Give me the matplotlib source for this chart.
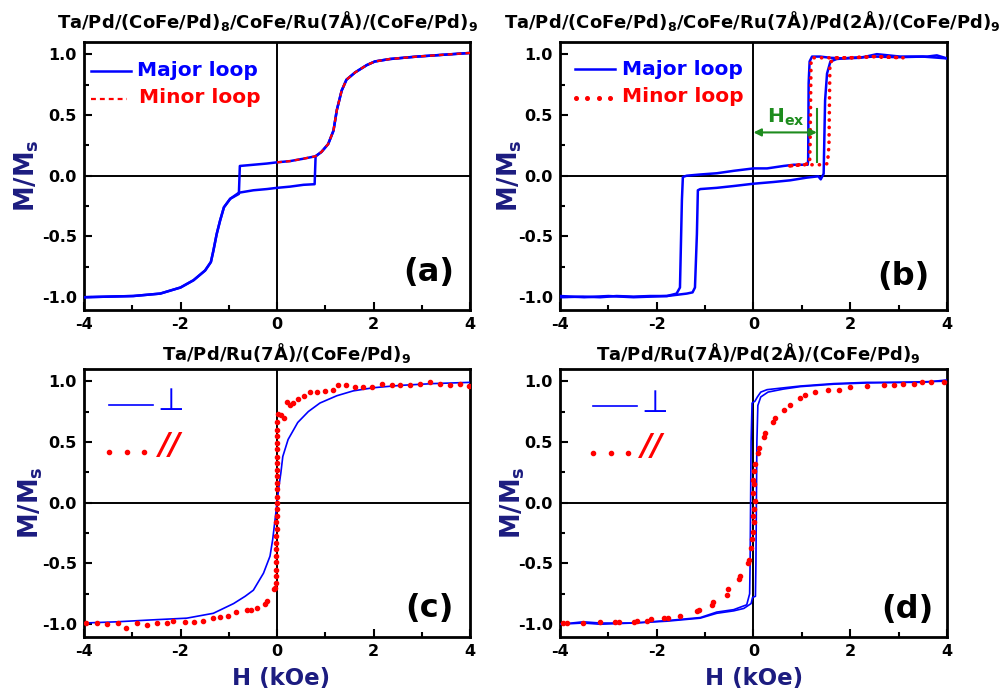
import matplotlib
matplotlib.use("Agg")
import matplotlib.pyplot as plt
from matplotlib.ticker import MultipleLocator, FormatStrFormatter

# ---------------- (a) Ta/Pd/(CoFe/Pd)8/CoFe/Ru(7Å)/(CoFe/Pd)9 ----------------
a_down_h = [4.0, 3.45, 2.9, 2.34, 2.03, 1.86, 1.62, 1.44, 1.34, 1.24, 1.17, 1.06,
            0.92, 0.80, 0.55, 0.27, 0.0, -0.21, -0.49, -0.77, -0.79, -0.97, -1.10,
            -1.18, -1.25, -1.32, -1.37, -1.49, -1.73, -2.0, -2.42, -2.98, -3.5, -4.0]
a_down_m = [1.01, 0.995, 0.98, 0.96, 0.94, 0.91, 0.85, 0.79, 0.70, 0.54, 0.37, 0.26,
            0.195, 0.16, 0.14, 0.12, 0.11, 0.10, 0.09, 0.08, -0.15, -0.19, -0.26,
            -0.37, -0.48, -0.62, -0.71, -0.78, -0.86, -0.92, -0.97, -0.99, -0.995, -1.0]
a_up_h = [-4.0, -3.5, -2.98, -2.42, -2.0, -1.73, -1.49, -1.37, -1.32, -1.25, -1.18,
          -1.10, -0.97, -0.79, -0.49, -0.21, 0.0, 0.27, 0.55, 0.78, 0.80, 0.92, 1.06,
          1.17, 1.24, 1.34, 1.44, 1.62, 1.86, 2.03, 2.34, 2.9, 3.45, 4.0]
a_up_m = [-1.0, -0.995, -0.99, -0.97, -0.92, -0.86, -0.78, -0.71, -0.62, -0.48, -0.37,
          -0.26, -0.19, -0.14, -0.12, -0.11, -0.10, -0.09, -0.075, -0.07, 0.16, 0.195,
          0.26, 0.37, 0.54, 0.70, 0.79, 0.85, 0.91, 0.94, 0.96, 0.98, 0.995, 1.01]
a_minor_h = [0.0, 0.27, 0.55, 0.80, 0.92, 1.06, 1.17, 1.24, 1.34, 1.44, 1.62, 1.86,
             2.03, 2.34, 2.9, 3.45, 4.0]
a_minor_m = [0.11, 0.12, 0.14, 0.16, 0.195, 0.26, 0.37, 0.54, 0.70, 0.79, 0.85, 0.91,
             0.94, 0.96, 0.98, 0.995, 1.01]

# ---------------- (b) ... Ru(7Å)/Pd(2Å) ... ----------------
b_down_h = [4.0, 3.79, 3.59, 3.03, 2.55, 2.21, 1.86, 1.59, 1.38, 1.21, 1.16, 1.14, 1.13,
            1.12, 0.83, 0.62, 0.28, 0.0, -0.41, -0.76, -1.10, -1.38, -1.46, -1.48, -1.52,
            -1.59, -1.79, -2.14, -2.48, -2.83, -3.17, -3.52, -4.0]
b_down_m = [0.965, 0.99, 0.98, 0.98, 1.0, 0.97, 0.965, 0.97, 0.98, 0.98, 0.94, 0.76, 0.13,
            0.09, 0.09, 0.08, 0.06, 0.06, 0.04, 0.02, 0.01, 0.0, -0.01, -0.2, -0.92,
            -0.97, -0.99, -0.99, -0.995, -0.99, -1.0, -0.995, -1.0]
b_up_h = [-4.0, -3.5, -3.0, -2.48, -1.79, -1.38, -1.26, -1.21, -1.17, -1.15, -1.10, -0.76,
          -0.41, 0.0, 0.41, 0.76, 1.10, 1.34, 1.39, 1.45, 1.48, 1.52, 1.59, 1.72, 2.0,
          2.5, 3.0, 3.5, 4.0]
b_up_m = [-0.99, -1.0, -0.99, -1.0, -0.99, -0.97, -0.96, -0.92, -0.48, -0.12, -0.11, -0.10,
          -0.085, -0.066, -0.052, -0.038, -0.016, -0.005, -0.03, 0.016, 0.62, 0.84, 0.94,
          0.96, 0.97, 0.98, 0.975, 0.98, 0.965]
b_minor_h = [0.75, 1.0, 1.25, 1.45, 1.53, 1.56, 1.57, 1.58, 1.7, 2.0, 2.5, 3.1, 2.5, 2.0,
             1.5, 1.22, 1.19, 1.18, 1.17, 1.16, 0.95, 0.75]
b_minor_m = [0.08, 0.09, 0.09, 0.09, 0.10, 0.25, 0.60, 0.93, 0.97, 0.97, 0.98, 0.97, 0.98,
             0.97, 0.97, 0.97, 0.95, 0.60, 0.25, 0.10, 0.09, 0.08]
b_hex = 1.31          # exchange field, kOe
b_hex_level = 0.356   # height of the H_ex arrow

# ---------------- (c) Ta/Pd/Ru(7Å)/(CoFe/Pd)9 ----------------
c_perp_h = [-4.0, -3.32, -2.63, -1.87, -1.32, -0.90, -0.66, -0.49, -0.28, -0.145, -0.09,
            -0.04, 0.0, 0.04, 0.08, 0.12, 0.23, 0.43, 0.65, 0.89, 1.24, 1.58, 2.0, 2.55,
            3.24, 4.0]
c_perp_m = [-0.99, -0.98, -0.965, -0.95, -0.91, -0.83, -0.77, -0.72, -0.58, -0.44, -0.305,
            -0.14, 0.0, 0.135, 0.245, 0.38, 0.52, 0.66, 0.75, 0.82, 0.88, 0.92, 0.946,
            0.965, 0.98, 0.99]
c_par_h = [3.97, 3.79, 3.59, 3.38, 3.17, 2.96, 2.76, 2.55, 2.38, 2.17, 1.96, 1.79, 1.62,
           1.44, 1.27, 1.17, 1.00, 0.82, 0.68, 0.55, 0.44, 0.34, 0.26, 0.21, 0.15, 0.08,
           0.03,
           0.01, 0.01, 0.0, 0.01, 0.0, 0.0, -0.01, 0.0, 0.0, -0.01, 0.0, -0.01, -0.01,
           -0.01, -0.01, -0.02, -0.01, -0.02, -0.02, -0.02, -0.02, -0.03, -0.02, -0.03,
           -0.03, -0.04,
           -0.06, -0.21, -0.25, -0.42, -0.53, -0.63, -0.84, -1.01, -1.18, -1.32, -1.53,
           -1.73, -1.91, -2.15, -2.29, -2.49, -2.70, -2.91, -3.12, -3.29, -3.53, -3.74,
           -3.95]
c_par_m = [0.96, 0.98, 0.97, 0.98, 0.99, 0.98, 0.97, 0.97, 0.97, 0.98, 0.95, 0.95, 0.95,
           0.97, 0.97, 0.93, 0.92, 0.91, 0.91, 0.88, 0.85, 0.82, 0.80, 0.83, 0.70, 0.72,
           0.73,
           0.66, 0.60, 0.55, 0.49, 0.44, 0.38, 0.33, 0.27, 0.22, 0.16, 0.11, 0.05, 0.0,
           -0.05, -0.11, -0.16, -0.22, -0.27, -0.33, -0.38, -0.44, -0.49, -0.55, -0.60,
           -0.66, -0.70,
           -0.71, -0.81, -0.83, -0.87, -0.88, -0.88, -0.90, -0.93, -0.94, -0.95, -0.97,
           -0.98, -0.98, -0.97, -0.99, -0.99, -1.01, -0.99, -1.03, -0.99, -1.00, -0.99,
           -0.99]

# ---------------- (d) Ta/Pd/Ru(7Å)/Pd(2Å)/(CoFe/Pd)9 ----------------
d_down_h = [4.0, 3.5, 3.03, 2.34, 1.66, 0.97, 0.62, 0.28, 0.15, 0.08, 0.03, -0.03, -0.05,
            -0.06, -0.07, -0.08, -0.14, -0.41, -0.76, -1.1, -1.79, -2.48, -3.17, -3.52, -4.0]
d_down_m = [1.01, 0.99, 0.99, 0.99, 0.98, 0.96, 0.945, 0.93, 0.91, 0.87, 0.835, 0.82, 0.5,
            0.0, -0.5, -0.75, -0.84, -0.88, -0.90, -0.945, -0.97, -0.99, -0.99, -0.98, -1.0]
d_up_h = [-4.0, -3.52, -3.17, -2.48, -1.79, -1.1, -0.76, -0.41, -0.2, -0.05, -0.02, 0.04,
          0.05, 0.06, 0.07, 0.09, 0.15, 0.3, 0.62, 0.97, 1.66, 2.34, 3.03, 3.5, 4.0]
d_up_m = [-1.0, -0.99, -1.0, -0.99, -0.975, -0.95, -0.91, -0.89, -0.87, -0.83, -0.78, -0.77,
          -0.5, 0.0, 0.5, 0.80, 0.87, 0.91, 0.935, 0.955, 0.975, 0.985, 0.99, 0.995, 1.0]
d_par_h = [3.93, 3.66, 3.48, 3.31, 3.10, 2.90, 2.69, 2.34, 2.00, 1.76, 1.55, 1.28, 1.07,
           0.97, 0.76, 0.63, 0.45, 0.40, 0.24, 0.21, 0.12, 0.09, 0.04, 0.01, -0.02, 0.02,
           0.0, 0.03, 0.01, -0.01, 0.01, -0.02, -0.04, -0.06, -0.09, -0.12, -0.28, -0.30,
           -0.52, -0.55, -0.83, -0.86, -1.12, -1.16, -1.52, -1.76, -1.86, -2.12, -2.21,
           -2.41, -2.48, -2.79, -2.86, -3.17, -3.52, -3.86, -3.93]
d_par_m = [0.99, 0.99, 0.99, 0.98, 0.98, 0.97, 0.97, 0.96, 0.95, 0.93, 0.93, 0.91, 0.89,
           0.86, 0.80, 0.76, 0.70, 0.66, 0.57, 0.54, 0.45, 0.41, 0.32, 0.26, 0.19, 0.15,
           0.08, 0.01, -0.05, -0.11, -0.16, -0.24, -0.30, -0.37, -0.47, -0.50, -0.60, -0.63,
           -0.71, -0.76, -0.82, -0.84, -0.88, -0.89, -0.93, -0.95, -0.95, -0.96, -0.97,
           -0.97, -0.98, -0.98, -0.98, -0.98, -0.99, -0.99, -0.99]

x_ticks = [-4, -2, 0, 2, 4]
y_ticks = [-1.0, -0.5, 0.0, 0.5, 1.0]
titles = ["Ta/Pd/(CoFe/Pd)$_8$/CoFe/Ru(7Å)/(CoFe/Pd)$_9$",
          "Ta/Pd/(CoFe/Pd)$_8$/CoFe/Ru(7Å)/Pd(2Å)/(CoFe/Pd)$_9$",
          "Ta/Pd/Ru(7Å)/(CoFe/Pd)$_9$",
          "Ta/Pd/Ru(7Å)/Pd(2Å)/(CoFe/Pd)$_9$"]
tags = ["(a)", "(b)", "(c)", "(d)"]

BLUE = "#0000ff"
RED = "#ff0000"
NAVY = "#1c1c80"
GREEN = "#1e8c1e"

plt.rcParams.update({
    "font.family": ["DejaVu Sans"],
    "font.weight": "bold",
    "mathtext.default": "regular",
    "axes.unicode_minus": False,
})

W, H = 1003, 695
fig = plt.figure(figsize=(W / 100, H / 100), dpi=100)
fig.patch.set_facecolor("white")


def box(l, t, r, b):
    return fig.add_axes([l / W, 1 - b / H, (r - l) / W, (b - t) / H])


axA = box(84, 42, 470, 310)
axB = box(560, 42, 947, 310)
axC = box(84, 369, 470, 637)
axD = box(560, 369, 947, 637)
axes = [axA, axB, axC, axD]

for ax in axes:
    ax.set_xlim(-4, 4)
    ax.set_ylim(-1.105, 1.1)
    ax.set_xticks(x_ticks)
    ax.set_yticks(y_ticks)
    ax.xaxis.set_minor_locator(MultipleLocator(1))
    ax.yaxis.set_minor_locator(MultipleLocator(0.25))
    ax.yaxis.set_major_formatter(FormatStrFormatter("%.1f"))
    ax.tick_params(which="both", direction="in", top=False, right=False, width=1.5,
                   labelsize=11.5, pad=5)
    ax.tick_params(which="major", length=6)
    ax.tick_params(which="minor", length=3.5)
    for lab in ax.get_xticklabels() + ax.get_yticklabels():
        lab.set_fontweight("bold")
    for s in ax.spines.values():
        s.set_linewidth(2)
    ax.axhline(0, color="black", lw=1.4, zorder=1)
    ax.axvline(0, color="black", lw=1.4, zorder=1)

# panel titles
title_pos = [(267, 21), (752, 21), (287, 353), (758, 353)]
for txt, (x, y) in zip(titles, title_pos):
    fig.text(x / W, 1 - y / H, txt, ha="center", va="center", fontsize=13,
             fontweight="bold", color="black")

# y labels
ylab_x = [-0.148, -0.129, -0.137, -0.121]
for ax, xp in zip(axes, ylab_x):
    ax.text(xp, 0.5, "M/M$_s$", transform=ax.transAxes, rotation=90, ha="center",
            va="center", fontsize=18.5, fontweight="bold", color=NAVY)

# x labels
for ax, xp in [(axC, 0.51), (axD, 0.501)]:
    ax.text(xp, -0.155, "H (kOe)", transform=ax.transAxes, ha="center", va="center",
            fontsize=16.5, fontweight="bold", color=NAVY)

# panel tags
tag_pos = [(0.894, 0.140), (0.888, 0.125), (0.894, 0.108), (0.898, 0.103)]
for ax, t, (xp, yp) in zip(axes, tags, tag_pos):
    ax.text(xp, yp, t, transform=ax.transAxes, ha="center", va="center", fontsize=23,
            fontweight="bold", color="black")

# ---- (a) ----
axA.plot(a_down_h, a_down_m, color=BLUE, lw=1.8, zorder=3)
axA.plot(a_up_h, a_up_m, color=BLUE, lw=1.8, zorder=3)
axA.plot(a_minor_h, a_minor_m, color=RED, lw=1.6, ls=(0, (2.2, 1.8)), zorder=4)
axA.plot([0.018, 0.122], [0.892, 0.892], transform=axA.transAxes, color=BLUE, lw=1.8)
axA.plot([0.018, 0.111], [0.789, 0.789], transform=axA.transAxes, color=RED, lw=1.6,
         ls=(0, (2.2, 1.8)))
axA.text(0.137, 0.892, "Major loop", transform=axA.transAxes, ha="left", va="center",
         fontsize=14.5, fontweight="bold", color=BLUE)
axA.text(0.142, 0.792, "Minor loop", transform=axA.transAxes, ha="left", va="center",
         fontsize=14.5, fontweight="bold", color=RED)

# ---- (b) ----
axB.plot(b_down_h, b_down_m, color=BLUE, lw=1.8, zorder=3)
axB.plot(b_up_h, b_up_m, color=BLUE, lw=1.8, zorder=3)
axB.plot(b_minor_h, b_minor_m, color=RED, lw=2.6, ls=(0, (0.05, 2.0)),
         dash_capstyle="round", zorder=4)
axB.plot([0.039, 0.142], [0.899, 0.899], transform=axB.transAxes, color=BLUE, lw=1.8)
axB.plot([0.041, 0.070, 0.100, 0.129], [0.791] * 4, transform=axB.transAxes, ls="none",
         marker="o", ms=2.6, color=RED)
axB.text(0.160, 0.899, "Major loop", transform=axB.transAxes, ha="left", va="center",
         fontsize=14.5, fontweight="bold", color=BLUE)
axB.text(0.160, 0.796, "Minor loop", transform=axB.transAxes, ha="left", va="center",
         fontsize=14.5, fontweight="bold", color=RED)
axB.annotate("", xy=(0.0, b_hex_level), xytext=(b_hex, b_hex_level),
             arrowprops=dict(arrowstyle="<|-|>", color=GREEN, lw=1.5, mutation_scale=11,
                             shrinkA=0, shrinkB=0), zorder=5)
axB.plot([b_hex, b_hex], [0.11, 0.55], color=GREEN, lw=1.5, zorder=5)
axB.text(0.28, 0.44, "H$_{ex}$", ha="left", va="baseline", fontsize=14.5,
         fontweight="bold", color=GREEN)

# ---- (c) ----
axC.plot(c_perp_h, c_perp_m, color=BLUE, lw=1.2, zorder=3)
axC.plot(c_par_h, c_par_m, ls="none", marker="o", ms=3, color=RED, zorder=4)
axC.plot([0.065, 0.179], [0.866, 0.866], transform=axC.transAxes, color=BLUE, lw=1.2)
axC.text(0.224, 0.877, "⊥", transform=axC.transAxes, ha="center", va="center",
         fontsize=22, fontweight="normal", color=BLUE)
axC.plot([0.065, 0.111, 0.155], [0.69] * 3, transform=axC.transAxes, ls="none",
         marker="o", ms=3, color=RED)
axC.text(0.222, 0.716, "//", transform=axC.transAxes, ha="center", va="center",
         fontsize=22, fontweight="bold", fontstyle="italic", color=RED)

# ---- (d) ----
axD.plot(d_down_h, d_down_m, color=BLUE, lw=1.2, zorder=3)
axD.plot(d_up_h, d_up_m, color=BLUE, lw=1.2, zorder=3)
axD.plot(d_par_h, d_par_m, ls="none", marker="o", ms=3, color=RED, zorder=4)
axD.plot([0.085, 0.199], [0.862, 0.862], transform=axD.transAxes, color=BLUE, lw=1.2)
axD.text(0.245, 0.873, "⊥", transform=axD.transAxes, ha="center", va="center",
         fontsize=22, fontweight="normal", color=BLUE)
axD.plot([0.085, 0.132, 0.176], [0.687] * 3, transform=axD.transAxes, ls="none",
         marker="o", ms=3, color=RED)
axD.text(0.239, 0.712, "//", transform=axD.transAxes, ha="center", va="center",
         fontsize=22, fontweight="bold", fontstyle="italic", color=RED)

fig.savefig("out.png", dpi=100, facecolor="white")
